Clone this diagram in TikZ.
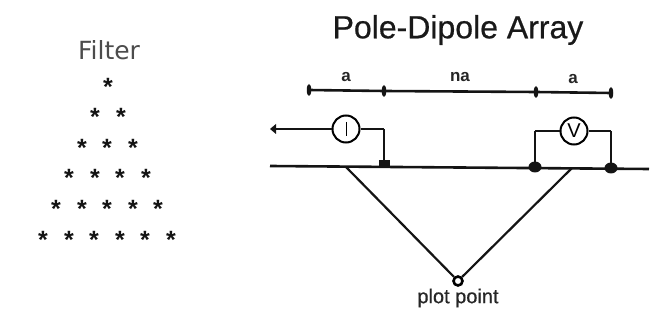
\documentclass[tikz,border=0pt]{standalone}
\usepackage{fontspec}
\setmainfont{Liberation Sans}
\newfontfamily\lightfont{DejaVu Sans}
\newfontfamily\heavyfont[FakeBold=0.6]{Liberation Sans}
\usetikzlibrary{arrows.meta,shapes.geometric}
\tikzset{
  x=1pt,y=-1pt,
  wire/.style={line width=2.2pt,black!92},
  thin wire/.style={line width=1.5pt,black!92},
  thick wire/.style={line width=2.6pt,black!92},
  meter/.style={circle,draw,line width=2pt,minimum size=27pt,inner sep=0pt,fill=white},
  tick mark/.style={ellipse,fill=black!92,minimum width=4.5pt,minimum height=12pt,inner sep=0pt},
  foot/.style={fill=black!92,inner sep=0pt},
  lab/.style={font=\bfseries\fontsize{17}{17}\selectfont,inner sep=0pt,text=black!85},
  astar/.style={font=\bfseries\fontsize{25}{25}\selectfont,inner sep=0pt,text=black!92,yshift=-4pt},
}
\begin{document}
\begin{tikzpicture}
\useasboundingbox (0,0) rectangle (657,323);
\node[inner sep=0pt,text=black!70,font=\lightfont\fontsize{25}{25}\selectfont] (filter) at (109,50) {Filter};
\foreach \n/\xx/\yy in {a1/108/83,
  b1/95/113,b2/121/113,
  c1/82/144,c2/107/144,c3/133/144,
  d1/69/174,d2/95/174,d3/120/174,d4/146/174,
  e1/56/205,e2/82/205,e3/107/205,e4/133/205,e5/158/205,
  f1/43/236,f2/69/236,f3/94/236,f4/120/236,f5/145/236,f6/171/236}
  \node[astar] (\n) at (\xx,\yy) {\raisebox{-0.28em}{*}};
\node[inner sep=0pt,text=black!90,font=\heavyfont\fontsize{32}{32}\selectfont] (title) at (458,30) {Pole-Dipole Array};
% scale bar
\node[tick mark] (t1) at (309,90) {};
\node[tick mark] (t2) at (384,91) {};
\node[tick mark] (t3) at (536,92) {};
\node[tick mark] (t4) at (611,93) {};
\draw[thick wire] (t1.center) -- (t2.center) -- (t3.center) -- (t4.center);
\node[lab] (la1) at (346,77) {a};
\node[lab] (lna) at (460,77) {na};
\node[lab] (la2) at (573,79) {a};
% ground
\coordinate (gl) at (270,166);
\coordinate (gr) at (649,169);
\draw[thick wire] (gl) -- (gr);
% electrodes
\node[foot,minimum width=11pt,minimum height=8pt] (e1f) at (384,164.5) {};
\fill[black!92] (535,167) circle (6.5pt and 5.5pt) coordinate (e2f);
\fill[black!92] (611,168) circle (6.5pt and 5.5pt) coordinate (e3f);
% meters
\node[meter] (I) at (346,129) {};
\draw[line width=0.9pt] (I.center)+(0,-7) -- +(0,7);
\node[meter] (V) at (574,131) {};
\node[inner sep=0pt,font=\fontsize{20}{20}\selectfont] (Vl) at (V) {V};
\coordinate (al) at (270,129);
\draw[wire] (I.west) -- (276,129);
\fill[black!92] (270,129) -- (276,124) -- (276,134) -- cycle;
\draw[thin wire] (I.east) -- (384,129) coordinate (ic);
\draw[wire] (ic) -- (e1f.north);
\draw[thin wire] (V.west) -- (535,131) coordinate (vl);
\draw[wire] (vl) -- (e2f);
\draw[thin wire] (V.east) -- (611,131) coordinate (vr);
\draw[wire] (vr) -- (e3f);
% triangle
\coordinate (tl) at (346,167);
\coordinate (tr) at (572,168);
\node[circle,draw,line width=2.6pt,minimum size=9pt,inner sep=0pt] (pp) at (458,281) {};
\draw[wire] (tl) -- (pp);
\draw[wire] (tr) -- (pp);
\node[inner sep=0pt,text=black!85,font=\heavyfont\fontsize{20}{20}\selectfont] (pl) at (458,298) {plot point};
\end{tikzpicture}
\end{document}
